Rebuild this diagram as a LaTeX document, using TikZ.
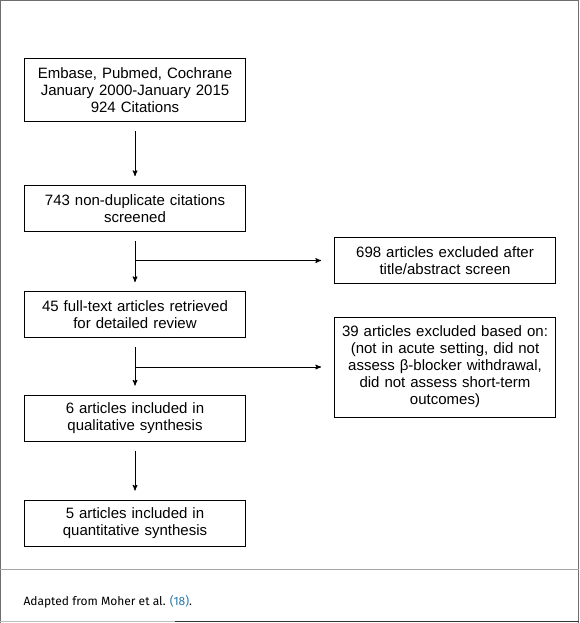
\documentclass[tikz,border=0pt]{standalone}
\usepackage{fontspec}
\setmainfont[WordSpace=1.6]{Liberation Sans}
\newfontfamily\captionfont{Fira Sans}
\usetikzlibrary{arrows, positioning}
\definecolor{citeblue}{RGB}{40,120,170}
\definecolor{framegray}{RGB}{110,110,110}

\begin{document}
\begin{tikzpicture}[x=1pt, y=-1pt, ->, >=stealth', line width=1pt,
 stage/.style={draw, text width=216pt, align=center, minimum width=221pt,
  minimum height=46pt, inner sep=2pt, font=\fontsize{15}{17}\selectfont},
 skip/.style={shorten <=9pt, shorten >=9pt}]
  \useasboundingbox (0,0) rectangle (579,623);

  \node[stage, minimum height=63pt] (src) at (135,90) {Embase, Pubmed, Cochrane\\January 2000-January 2015\\924 Citations};
  \node[stage, node distance=118.5pt] (scr) [below of=src] {743 non-duplicate citations\\screened};
  \node[stage, node distance=106pt] (full) [below of=scr] {45 full-text articles retrieved\\for detailed review};
  \node[stage, node distance=103.5pt] (qual) [below of=full] {6 articles included in\\qualitative synthesis};
  \node[stage, node distance=105pt] (quant) [below of=qual] {5 articles included in\\quantitative synthesis};
  \node[stage] (ex1) at (445,260.5) {698 articles excluded after\\title/abstract screen};
  \node[stage, minimum height=100pt] (ex2) at (445,367) {39 articles excluded based on:\\(not in acute setting, did not\\assess β-blocker withdrawal,\\did not assess short-term\\outcomes)};

  \foreach \s/\t in {src/scr, scr/full, full/qual, qual/quant} {
   \draw[skip] (\s) -- (\t);}
  \draw[shorten >=13pt] (scr.south |- ex1) -- (ex1);
  \draw[shorten >=13pt] (full.south |- ex2) -- (ex2);

  % frame and note
  \draw[-, framegray] (0.5,623) -- (0.5,0.5) -- (578.5,0.5) -- (578.5,623);
  \draw[-, gray!70] (0,569) -- (579,569);
  \draw[-, gray!50] (0,621.5) -- (175,621.5);
  \draw[-, black!80] (175,621.5) -- (579,621.5);
  \node[anchor=west, inner sep=0pt, font=\captionfont\fontsize{12}{14}\selectfont] (note) at (23,601.5) {Adapted from Moher et al. \textcolor{citeblue}{(18)}.};
\end{tikzpicture}
\end{document}
